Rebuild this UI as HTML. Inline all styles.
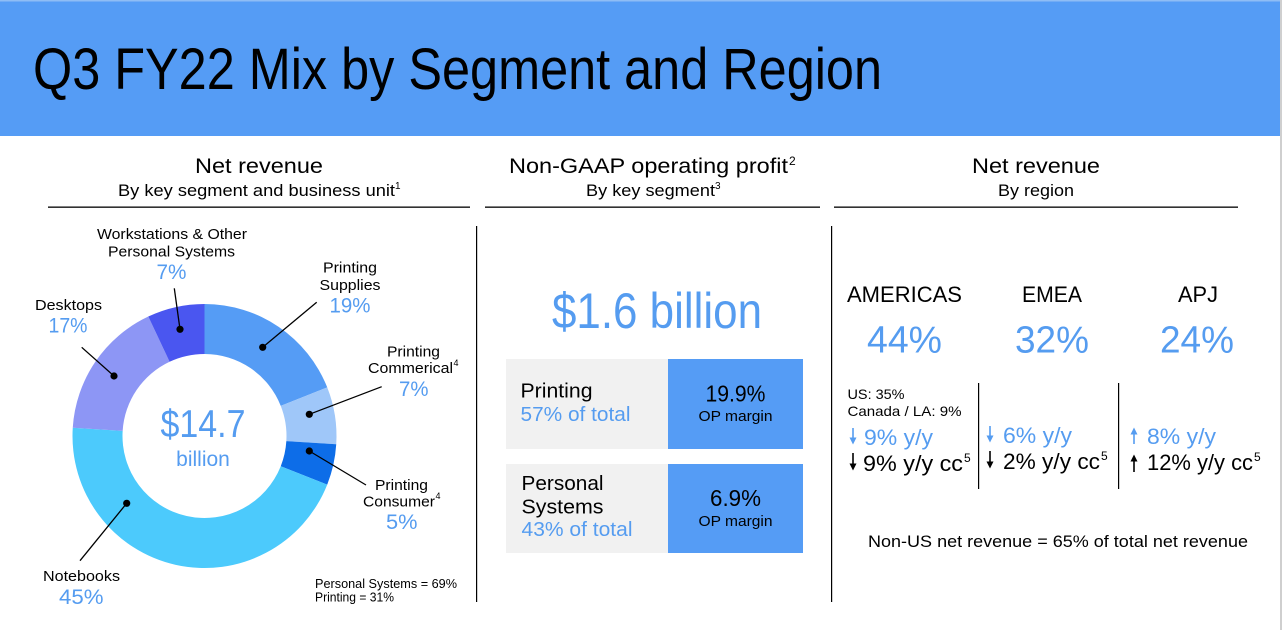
<!DOCTYPE html>
<html><head><meta charset="utf-8"><style>
html,body{margin:0;padding:0;background:#fff;}
svg{display:block;}
text{font-family:"Liberation Sans",Arial,sans-serif;}
</style></head><body>
<svg width="1282" height="630" viewBox="0 0 1282 630" xmlns="http://www.w3.org/2000/svg">
<rect x="0" y="0" width="1282" height="630" fill="#fff"/>
<!-- header -->
<rect x="0" y="0" width="1280" height="136" fill="#559cf5"/>
<rect x="0" y="0" width="1280" height="1.5" fill="#8fbdf5"/>
<rect x="1280" y="0" width="2" height="630" fill="#cfcfcf"/>
<text x="33" y="89" font-size="58" fill="#000" textLength="849" lengthAdjust="spacingAndGlyphs">Q3 FY22 Mix by Segment and Region</text>

<!-- section headers -->
<text x="195" y="173" font-size="21" fill="#000" textLength="128" lengthAdjust="spacingAndGlyphs">Net revenue</text>
<text x="118" y="196" font-size="17" fill="#000" textLength="277" lengthAdjust="spacingAndGlyphs">By key segment and business unit</text>
<text x="395" y="189" font-size="10" fill="#000">1</text>
<rect x="48" y="206.5" width="422" height="1.3" fill="#000"/>

<text x="509" y="173" font-size="21" fill="#000" textLength="279" lengthAdjust="spacingAndGlyphs">Non-GAAP operating profit</text>
<text x="789" y="165" font-size="12" fill="#000">2</text>
<text x="586" y="196" font-size="17" fill="#000" textLength="129" lengthAdjust="spacingAndGlyphs">By key segment</text>
<text x="715" y="189" font-size="10" fill="#000">3</text>
<rect x="485" y="206.5" width="335" height="1.3" fill="#000"/>

<text x="972" y="173" font-size="21" fill="#000" textLength="128" lengthAdjust="spacingAndGlyphs">Net revenue</text>
<text x="998" y="196" font-size="17" fill="#000" textLength="76" lengthAdjust="spacingAndGlyphs">By region</text>
<rect x="834" y="206.5" width="404" height="1.3" fill="#000"/>

<!-- vertical dividers -->
<rect x="476" y="226" width="1.2" height="376" fill="#000"/>
<rect x="831" y="226" width="1.2" height="376" fill="#000"/>

<!-- donut -->
<path d="M204.5,304 A132,132 0 0 1 327.23,387.41 L280.74,405.82 A82,82 0 0 0 204.5,354 Z" fill="#559cf5"/>
<path d="M327.23,387.41 A132,132 0 0 1 336.24,444.29 L286.34,441.15 A82,82 0 0 0 280.74,405.82 Z" fill="#9fc7f9"/>
<path d="M336.24,444.29 A132,132 0 0 1 327.23,484.59 L280.74,466.19 A82,82 0 0 0 286.34,441.15 Z" fill="#0d6de8"/>
<path d="M327.23,484.59 A132,132 0 0 1 72.76,427.71 L122.66,430.85 A82,82 0 0 0 280.74,466.19 Z" fill="#4ccafc"/>
<path d="M72.76,427.71 A132,132 0 0 1 148.30,316.56 L169.59,361.80 A82,82 0 0 0 122.66,430.85 Z" fill="#8d96f5"/>
<path d="M148.30,316.56 A132,132 0 0 1 204.5,304 L204.5,354 A82,82 0 0 0 169.59,361.80 Z" fill="#4a56f0"/>

<text x="203" y="437" font-size="39" fill="#559cf0" text-anchor="middle" textLength="85" lengthAdjust="spacingAndGlyphs">$14.7</text>
<text x="203" y="466" font-size="21" fill="#559cf0" text-anchor="middle">billion</text>

<!-- leader lines -->
<g stroke="#000" stroke-width="1.3">
<line x1="174.3" y1="288.3" x2="180" y2="329.3"/>
<line x1="81.7" y1="347.3" x2="114" y2="376"/>
<line x1="316.7" y1="302.3" x2="262.7" y2="347.3"/>
<line x1="381.7" y1="386.7" x2="309.3" y2="414.3"/>
<line x1="309.3" y1="451" x2="366" y2="485"/>
<line x1="126.7" y1="503.3" x2="80" y2="560.7"/>
</g>
<g fill="#000">
<circle cx="180" cy="329.3" r="3.6"/>
<circle cx="114" cy="376" r="3.6"/>
<circle cx="262.7" cy="347.3" r="3.6"/>
<circle cx="309.3" cy="414.3" r="3.6"/>
<circle cx="309.3" cy="451" r="3.6"/>
<circle cx="126.7" cy="503.3" r="3.6"/>
</g>

<!-- donut labels -->
<g font-size="15" fill="#000">
<text x="97" y="239" textLength="150" lengthAdjust="spacingAndGlyphs">Workstations &amp; Other</text>
<text x="108" y="256.5" textLength="127" lengthAdjust="spacingAndGlyphs">Personal Systems</text>
<text x="35" y="310" textLength="67" lengthAdjust="spacingAndGlyphs">Desktops</text>
<text x="323" y="272.5" textLength="54" lengthAdjust="spacingAndGlyphs">Printing</text>
<text x="319.5" y="290" textLength="61" lengthAdjust="spacingAndGlyphs">Supplies</text>
<text x="387" y="356.5" textLength="53" lengthAdjust="spacingAndGlyphs">Printing</text>
<text x="368" y="373" textLength="85" lengthAdjust="spacingAndGlyphs">Commerical</text>
<text x="375" y="490" textLength="53" lengthAdjust="spacingAndGlyphs">Printing</text>
<text x="363" y="506.5" textLength="72" lengthAdjust="spacingAndGlyphs">Consumer</text>
<text x="43" y="581" textLength="77" lengthAdjust="spacingAndGlyphs">Notebooks</text>
</g>
<text x="453.5" y="366" font-size="9" fill="#000">4</text>
<text x="435.5" y="499" font-size="9" fill="#000">4</text>
<g font-size="21" fill="#559cf0">
<text x="156.5" y="279" textLength="30" lengthAdjust="spacingAndGlyphs">7%</text>
<text x="48.5" y="332.5" textLength="39" lengthAdjust="spacingAndGlyphs">17%</text>
<text x="329.5" y="312.5" textLength="41" lengthAdjust="spacingAndGlyphs">19%</text>
<text x="399" y="396" textLength="29.5" lengthAdjust="spacingAndGlyphs">7%</text>
<text x="386" y="529" textLength="31.5" lengthAdjust="spacingAndGlyphs">5%</text>
<text x="59" y="604" textLength="44.5" lengthAdjust="spacingAndGlyphs">45%</text>
</g>
<text x="315" y="588" font-size="12.5" fill="#000" textLength="142" lengthAdjust="spacingAndGlyphs">Personal Systems = 69%</text>
<text x="315" y="601.5" font-size="12.5" fill="#000" textLength="79" lengthAdjust="spacingAndGlyphs">Printing = 31%</text>

<!-- middle section -->
<text x="552" y="328" font-size="50" fill="#559cf0" textLength="210" lengthAdjust="spacingAndGlyphs">$1.6 billion</text>
<rect x="506" y="359" width="162" height="90" fill="#f1f1f1"/>
<rect x="668" y="359" width="135" height="90" fill="#559cf5"/>
<rect x="506" y="464" width="162" height="89" fill="#f1f1f1"/>
<rect x="668" y="464" width="135" height="89" fill="#559cf5"/>
<text x="520.5" y="397.5" font-size="20" fill="#000" textLength="72" lengthAdjust="spacingAndGlyphs">Printing</text>
<text x="520.5" y="421" font-size="20" fill="#559cf0" textLength="110" lengthAdjust="spacingAndGlyphs">57% of total</text>
<text x="735.5" y="401.5" font-size="23" fill="#000" text-anchor="middle" textLength="60" lengthAdjust="spacingAndGlyphs">19.9%</text>
<text x="735.5" y="421" font-size="15" fill="#000" text-anchor="middle" textLength="74" lengthAdjust="spacingAndGlyphs">OP margin</text>
<text x="521.5" y="490" font-size="20" fill="#000" textLength="82" lengthAdjust="spacingAndGlyphs">Personal</text>
<text x="521.5" y="513.5" font-size="20" fill="#000" textLength="82" lengthAdjust="spacingAndGlyphs">Systems</text>
<text x="521.5" y="536" font-size="20" fill="#559cf0" textLength="111" lengthAdjust="spacingAndGlyphs">43% of total</text>
<text x="735.5" y="506" font-size="23" fill="#000" text-anchor="middle" textLength="51" lengthAdjust="spacingAndGlyphs">6.9%</text>
<text x="735.5" y="526" font-size="15" fill="#000" text-anchor="middle" textLength="74" lengthAdjust="spacingAndGlyphs">OP margin</text>

<!-- right section -->
<g font-size="22" fill="#000">
<text x="847" y="302" textLength="115" lengthAdjust="spacingAndGlyphs">AMERICAS</text>
<text x="1022" y="302" textLength="60" lengthAdjust="spacingAndGlyphs">EMEA</text>
<text x="1178" y="302" textLength="40" lengthAdjust="spacingAndGlyphs">APJ</text>
</g>
<g font-size="38" fill="#559cf0">
<text x="867" y="352.5" textLength="75" lengthAdjust="spacingAndGlyphs">44%</text>
<text x="1015" y="352.5" textLength="74" lengthAdjust="spacingAndGlyphs">32%</text>
<text x="1160" y="352.5" textLength="74" lengthAdjust="spacingAndGlyphs">24%</text>
</g>
<rect x="978" y="383" width="1.2" height="106" fill="#000"/>
<rect x="1118" y="383" width="1.2" height="106" fill="#000"/>
<text x="847.5" y="399" font-size="14" fill="#000" textLength="57" lengthAdjust="spacingAndGlyphs">US: 35%</text>
<text x="847.5" y="416" font-size="14" fill="#000" textLength="114" lengthAdjust="spacingAndGlyphs">Canada / LA: 9%</text>

<!-- arrows -->
<g stroke-width="1.6">
<line x1="853" y1="428" x2="853" y2="439" stroke="#559cf0"/>
<line x1="853" y1="453" x2="853" y2="465" stroke="#000"/>
<line x1="990" y1="426" x2="990" y2="437" stroke="#559cf0"/>
<line x1="990" y1="451" x2="990" y2="463" stroke="#000"/>
<line x1="1134" y1="444" x2="1134" y2="433" stroke="#559cf0"/>
<line x1="1134" y1="472" x2="1134" y2="460" stroke="#000"/>
</g>
<path d="M849.5,437.5 L856.5,437.5 L853,444.5 Z" fill="#559cf0"/>
<path d="M849.5,463.5 L856.5,463.5 L853,470.5 Z" fill="#000"/>
<path d="M986.5,435.5 L993.5,435.5 L990,442.5 Z" fill="#559cf0"/>
<path d="M986.5,461.5 L993.5,461.5 L990,468.5 Z" fill="#000"/>
<path d="M1130.5,434.5 L1137.5,434.5 L1134,427.5 Z" fill="#559cf0"/>
<path d="M1130.5,461.5 L1137.5,461.5 L1134,454.5 Z" fill="#000"/>
<g font-size="22">
<text x="864" y="445" fill="#559cf0" textLength="69" lengthAdjust="spacingAndGlyphs">9% y/y</text>
<text x="863" y="471" fill="#000" textLength="100" lengthAdjust="spacingAndGlyphs">9% y/y cc</text>
<text x="1003" y="443" fill="#559cf0" textLength="69" lengthAdjust="spacingAndGlyphs">6% y/y</text>
<text x="1003" y="469" fill="#000" textLength="97" lengthAdjust="spacingAndGlyphs">2% y/y cc</text>
<text x="1147" y="444" fill="#559cf0" textLength="69" lengthAdjust="spacingAndGlyphs">8% y/y</text>
<text x="1147" y="470" fill="#000" textLength="106" lengthAdjust="spacingAndGlyphs">12% y/y cc</text>
</g>
<g font-size="12" fill="#000">
<text x="964" y="462">5</text>
<text x="1101" y="460">5</text>
<text x="1254" y="461">5</text>
</g>
<text x="868" y="547" font-size="17" fill="#000" textLength="380" lengthAdjust="spacingAndGlyphs">Non-US net revenue = 65% of total net revenue</text>
</svg>
</body></html>
